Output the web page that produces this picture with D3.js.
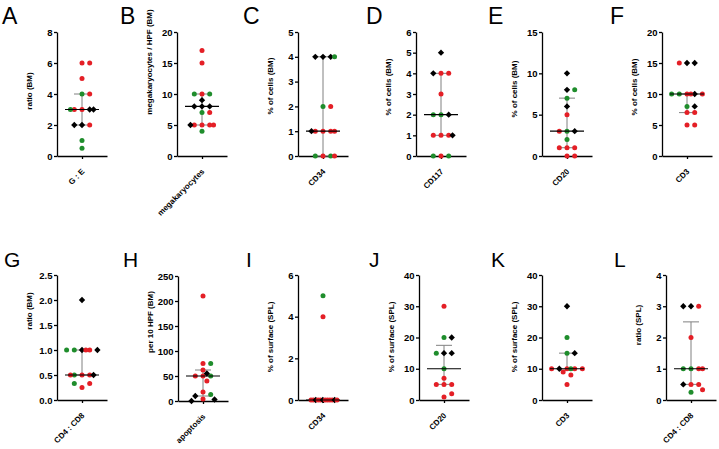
<!DOCTYPE html>
<html><head><meta charset="utf-8">
<script src="https://cdn.jsdelivr.net/npm/d3@7"></script>
<style>
body{margin:0;background:#fff}
svg{display:block}
text{font-family:"Liberation Sans",Arial,sans-serif;fill:#000}
</style>
</head><body>
<svg id="c" width="719" height="449"></svg>
<script>
// ---------------- DATA ----------------
const letters = ["A","B","C","D","E","F","G","H","I","J","K","L"];
const categories = ["G : E","megakaryocytes","CD34","CD117","CD20","CD3","CD4 : CD8","apoptosis","CD34","CD20","CD3","CD4 : CD8"];
const yTitles = ["ratio (BM)","megakaryocytes / HPF (BM)","% of cells (BM)","% of cells (BM)","% of cells (BM)","% of cells (BM)",
                 "ratio (BM)","per 10 HPF (BM)","% of surface (SPL)","% of surface (SPL)","% of surface (SPL)","ratio (SPL)"];
const yTicks = [[0,2,4,6,8],[0,5,10,15,20],[0,1,2,3,4,5],[0,1,2,3,4,5,6],[0,5,10,15],[0,5,10,15,20],
                [0,0.5,1,1.5,2,2.5],[0,50,100,150,200,250],[0,2,4,6],[0,10,20,30,40],[0,10,20,30,40],[0,1,2,3,4]];
const tickFormats = ["d","d","d","d","d","d",".1f","d","d","d","d","d"];

// values and group (r = red, g = green, k = black) per panel
const valuesA = [6,6,5,4,4,3,3,3,3,3,2,2,2,1,0.5];
const groupsA = ["r","r","r","g","r","r","k","r","k","g","k","r","k","g","g"];
const valuesB = [17,15,10,10,10,9,8,8,8,7,7,5,5,5,5,5,4];
const groupsB = ["r","r","r","g","g","k","k","k","k","g","r","r","r","r","r","k","g"];
const valuesC = [4,4,4,4,2,2,1,1,1,1,1,0,0,0,0];
const groupsC = ["k","k","k","g","g","r","r","r","r","r","k","r","g","g","r"];
const valuesD = [5,4,4,4,3,2,2,2,1,1,1,1,0,0,0];
const groupsD = ["k","r","r","k","r","g","k","g","r","r","r","k","r","g","g"];
const valuesE = [10,8,8,7,6,5,3,3,3,2,1,1,1,0,0];
const groupsE = ["k","k","g","g","k","r","g","k","r","g","r","r","r","r","r"];
const valuesF = [15,15,15,10,10,10,10,10,10,8,8,7,7,5,5];
const groupsF = ["k","k","r","r","k","g","r","g","r","g","k","r","r","r","r"];
const valuesG = [2,1,1,1,1,1,1,0.5,0.5,0.5,0.5,0.5,0.25,0.33,0.33];
const groupsG = ["k","k","r","g","k","g","r","r","r","g","k","r","r","r","g"];
const valuesH = [210,75,75,62,50,50,50,55,40,18,13,10,4,3,0];
const groupsH = ["r","r","g","r","r","g","r","k","r","r","g","k","r","k","k"];
const valuesI = [5,4,0,0,0,0,0,0,0,0,0,0,0,0];
const groupsI = ["g","r","r","r","k","r","r","k","r","r","r","r","k","r"];
const valuesJ = [30,20,20,15,15,15,10,7,5,5,5,1,2];
const groupsJ = ["r","g","k","k","k","g","g","r","r","r","r","r","r"];
const valuesK = [30,20,15,15,10,10,10,10,10,10,9,8,5];
const groupsK = ["k","g","g","k","r","r","k","r","r","g","r","r","r"];
const valuesL = [3,3,3,2,1,1,1,1,0.5,0.5,0.5,0.25,0.33];
const groupsL = ["k","r","k","r","g","r","g","r","r","r","k","g","r"];

const allValues = [valuesA,valuesB,valuesC,valuesD,valuesE,valuesF,valuesG,valuesH,valuesI,valuesJ,valuesK,valuesL];
const allGroups = [groupsA,groupsB,groupsC,groupsD,groupsE,groupsF,groupsG,groupsH,groupsI,groupsJ,groupsK,groupsL];

// ---------------- LAYOUT ----------------
// lx/ly/ls: panel letter; ax: y-axis x; top/zero: y range; tcy: y-title centre
const layout = [
  {lx:2,  ly:24, ls:23, ax:57,  top:32,  zero:156, tcy:91},
  {lx:120,ly:24, ls:23, ax:177, top:32,  zero:156, tcy:62},
  {lx:243,ly:24, ls:23, ax:298, top:32,  zero:156, tcy:86},
  {lx:366,ly:24, ls:23, ax:416, top:32,  zero:156, tcy:87},
  {lx:488,ly:24, ls:23, ax:542, top:32,  zero:156, tcy:89},
  {lx:610,ly:24, ls:23, ax:662, top:32,  zero:156, tcy:87},
  {lx:4,  ly:267,ls:21, ax:57,  top:275, zero:400, tcy:311},
  {lx:123,ly:267,ls:21, ax:178, top:276, zero:401, tcy:322},
  {lx:246,ly:267,ls:21, ax:298, top:275, zero:400, tcy:337},
  {lx:369,ly:267,ls:21, ax:419, top:275, zero:400, tcy:337},
  {lx:491,ly:267,ls:21, ax:542, top:275, zero:400, tcy:337},
  {lx:614,ly:267,ls:21, ax:666, top:275, zero:400, tcy:325}
];
const AXIS_LEN = 50;
const color = d3.scaleOrdinal().domain(["r","g","k"]).range(["#e41f26","#1f8d2c","#000000"]);

// Prism-style quantile ((n+1)p method)
function quant(sorted, p){
  const n = sorted.length;
  let pos = (n+1)*p;
  pos = Math.max(1, Math.min(n, pos));
  const lo = Math.floor(pos), f = pos - lo;
  if (lo >= n) return sorted[n-1];
  return sorted[lo-1] + f*(sorted[lo]-sorted[lo-1]);
}

// scatter-dot-plot horizontal placement
function swarm(vals, y){
  const STEP = 3.85, TH = 5.9;
  const cnt = d3.rollup(vals, v => v.length, d => d);
  const placed = [], res = [], bigIdx = new Map();
  vals.forEach((v,i) => {
    const n = cnt.get(v), py = y(v);
    if (n > 7){
      const k = bigIdx.get(v) || 0; bigIdx.set(v, k+1);
      const w = Math.min((n-1)*2.4, 26);
      const dx = -w/2 + k*w/(n-1) + 1;
      res[i] = dx; placed.push([dx,py]); return;
    }
    const maxSlot = Math.max(2, Math.ceil((n-1)/2));
    const cands = [0];
    for (let s=1; s<=maxSlot; s++) cands.push(s*STEP, -s*STEP);
    const ext = cands.concat([(maxSlot+1)*STEP, -(maxSlot+1)*STEP]);
    const minD = dx => placed.length ? d3.min(placed, p => Math.hypot(p[0]-dx, p[1]-py)) : Infinity;
    let best = cands.find(dx => minD(dx) >= TH);
    if (best === undefined) best = d3.greatest(ext, dx => minD(dx));
    res[i] = best; placed.push([best,py]);
  });
  return res;
}

const svg = d3.select("#c");

letters.forEach((letter, pi) => {
  const L = layout[pi];
  const vals = allValues[pi], grps = allGroups[pi], ticks = yTicks[pi];
  const g = svg.append("g");

  // panel letter
  g.append("text").attr("x", L.lx).attr("y", L.ly)
    .attr("font-size", L.ls).text(letter);

  const y = d3.scaleLinear().domain([0, d3.max(ticks)]).range([L.zero, L.top]);
  const x = d3.scalePoint().domain([categories[pi]]).range([L.ax, L.ax + AXIS_LEN]).padding(0.5);
  const cx = x(categories[pi]);

  // y axis
  const ya = g.append("g").attr("transform", `translate(${L.ax},0)`)
    .call(d3.axisLeft(y).tickValues(ticks).tickFormat(d3.format(tickFormats[pi]))
      .tickSize(3).tickSizeOuter(0).tickPadding(1.5));
  // x axis
  const xa = g.append("g").attr("transform", `translate(0,${L.zero})`)
    .call(d3.axisBottom(x).tickSize(3).tickSizeOuter(0).tickFormat(""));
  [ya, xa].forEach(a => {
    a.selectAll(".domain").attr("stroke", "#000").attr("stroke-width", 1.3);
    a.selectAll(".tick line").attr("stroke", "#000").attr("stroke-width", 1.3);
    a.selectAll(".tick text").attr("font-size", 9.5).attr("font-weight", "bold")
      .attr("font-family", '"Liberation Sans",Arial,sans-serif').attr("fill", "#000");
  });

  // y title
  g.append("text")
    .attr("transform", `translate(${L.ax - 25},${L.tcy}) rotate(-90)`)
    .attr("text-anchor", "middle").attr("font-size", 8).attr("font-weight", "bold").text(yTitles[pi]);

  // category label
  g.append("text")
    .attr("transform", `translate(${cx + 3},${L.zero + 16}) rotate(-45)`)
    .attr("text-anchor", "end").attr("font-size", 8).attr("font-weight", "bold").text(categories[pi]);

  // stats
  const sorted = d3.sort(vals);
  const med = quant(sorted, 0.5), q1 = quant(sorted, 0.25), q3 = quant(sorted, 0.75);

  // IQR (gray)
  const iqr = g.append("g").attr("stroke", "#808080").attr("stroke-width", 1);
  iqr.append("line").attr("x1", cx).attr("x2", cx).attr("y1", y(q1)).attr("y2", y(q3));
  [q1, q3].forEach(q => iqr.append("line").attr("x1", cx - 8).attr("x2", cx + 8).attr("y1", y(q)).attr("y2", y(q)));

  // points
  const offs = swarm(vals, y);
  const pts = vals.map((v,i) => ({v, grp: grps[i], dx: offs[i]}));
  const sq = d3.symbol().type(d3.symbolSquare).size(20);
  pts.forEach(p => {
    if (p.grp === "k") {
      g.append("path").attr("d", sq())
        .attr("transform", `translate(${cx + p.dx},${y(p.v)}) rotate(45)`)
        .attr("fill", color(p.grp));
    } else {
      g.append("circle").attr("cx", cx + p.dx).attr("cy", y(p.v)).attr("r", 2.5)
        .attr("fill", color(p.grp));
    }
  });

  // median
  g.append("line").attr("x1", cx - 17).attr("x2", cx + 17).attr("y1", y(med)).attr("y2", y(med))
    .attr("stroke", "#000").attr("stroke-width", 1.2);
});
</script>
</body></html>
